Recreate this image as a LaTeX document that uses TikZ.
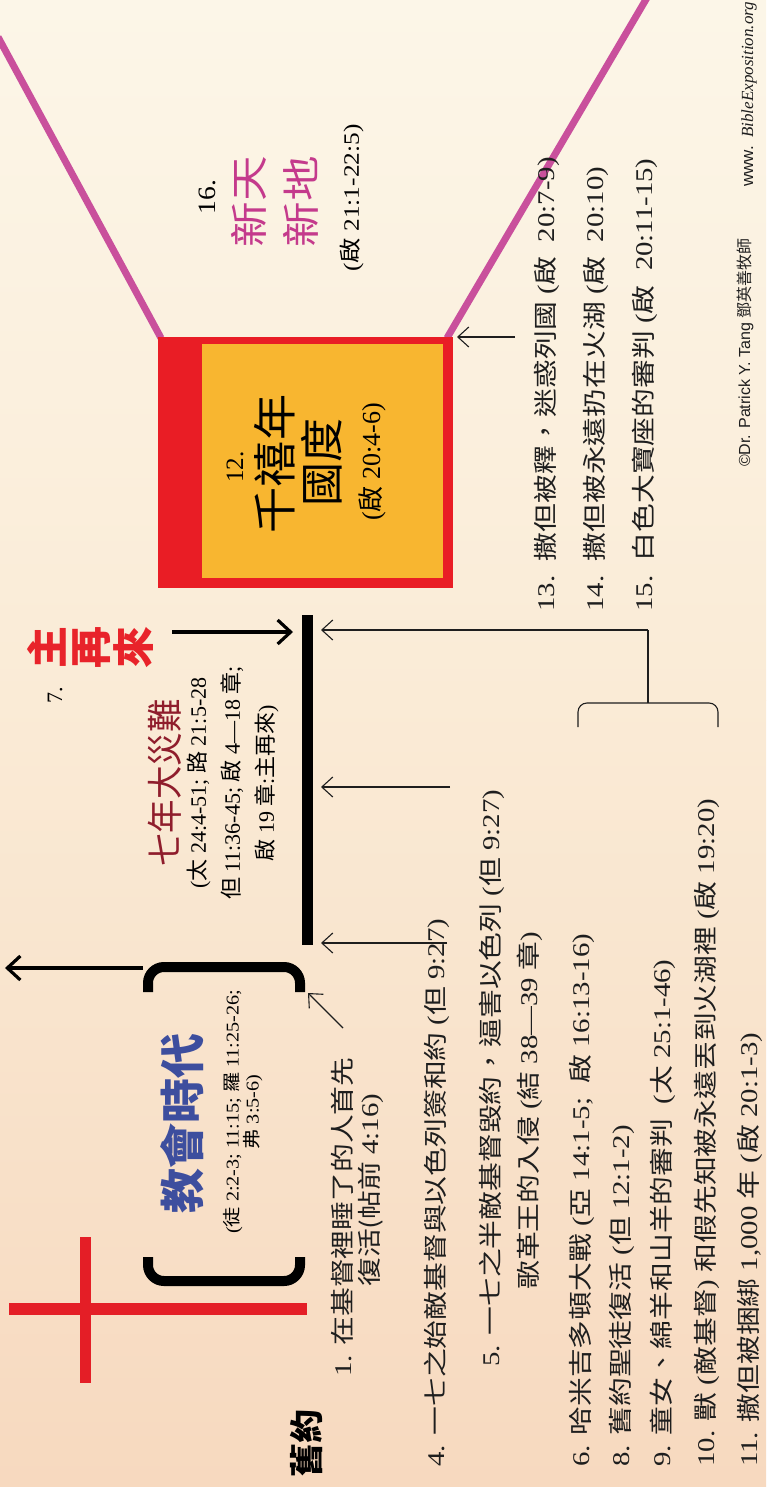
\documentclass[tikz,border=0pt]{standalone}
\usepackage{fontspec}
\setmainfont{Liberation Serif}
\newfontfamily\cj{Noto Sans CJK TC}
\newfontfamily\sansf{Liberation Sans}
\newcommand\C[1]{{\cj #1}}
\newcommand\fs[1]{\fontsize{#1}{#1}\selectfont}
\usetikzlibrary{arrows.meta}
\definecolor{bgtop}{HTML}{FCF6E8}
\definecolor{bgmid}{HTML}{FAEBD6}
\definecolor{bgbot}{HTML}{F7D9BF}
\definecolor{pinkline}{HTML}{C9509C}
\definecolor{pinktext}{HTML}{C43A8C}
\definecolor{boxred}{HTML}{E91D25}
\definecolor{boxorange}{HTML}{F8B630}
\definecolor{crossred}{HTML}{E41E26}
\definecolor{titleblue}{HTML}{3D4E9E}
\definecolor{maroon}{HTML}{8F1D2C}
\definecolor{zred}{HTML}{E8232A}
\definecolor{ink}{HTML}{1E1E1E}
\begin{document}
\begin{tikzpicture}[x=1pt,y=-1pt,
  vt/.style={rotate=90,xscale=#1,inner sep=0pt,anchor=west,text=ink},
  vt/.default=1.2,
  vc/.style={rotate=90,xscale=#1,inner sep=0pt,align=center},
  vc/.default=1,
  thinarrow/.style={line width=1.1pt,draw=ink,-{Straight Barb[length=11pt,width=20pt,line width=1.1pt]}},
  thickarrow/.style={line width=3.2pt,-{Straight Barb[length=13pt,width=24pt,line width=3.2pt]}},
  bracket/.style={line width=10pt,rounded corners=16pt},
  thinline/.style={line width=1.1pt,draw=ink}]
\useasboundingbox (0,0) rectangle (766,1487);
% background
\shade[top color=bgtop,bottom color=bgmid] (0,0) rectangle (766,700);
\shade[top color=bgmid,bottom color=bgbot] (0,700) rectangle (766,1487);

% new heaven / new earth lines
\coordinate (pL1) at (-2,37);
\coordinate (pL2) at (161,338);
\coordinate (pR1) at (648,-4);
\coordinate (pR2) at (447,338);
\draw[pinkline,line width=7pt] (pL1) -- (pL2);
\draw[pinkline,line width=7pt] (pR1) -- (pR2);

% millennium box
\fill[boxred] (158,337) rectangle (453,588);
\fill[boxorange] (202,344) rectangle (443,578);
\node[vc=1,font=\fs{25}] (n12) at (235,467) {12.};
\node[vc=1.05,font={\cj\fontsize{44}{44}\selectfont}] (qxn) at (275,464) {千禧年};
\node[vc=1.0,font={\cj\fontsize{44}{44}\selectfont}] (gd) at (322,462) {國度};
\node[vc=1.0,font=\fs{26}] (qref) at (372,462) {(\C{啟} 20:4-6)};

% 16 new heaven new earth
\node[vc=1.1,font=\fs{25}] (n16) at (207,197) {16.};
\node[vc=1.2,text=pinktext,font={\cj\fontsize{38}{52}\selectfont}] (xtxd) at (275,202) {新天\\新地};
\node[vc=1.15,font=\fs{22}] (xref) at (352,198) {(\C{啟} 21:1-22:5)};

% cross
\fill[crossred] (9,1303) rectangle (307,1315);
\fill[crossred] (80,1237) rectangle (91,1383);

% old testament
\node[vc=1,font={\cj\bfseries\fontsize{34}{34}\selectfont}] (jy) at (306,1443) {舊約};

% church age brackets
\draw[bracket] (148,1257) -- (148,1281) -- (300,1281) -- (300,1257);
\draw[bracket] (148,992) -- (148,967) -- (300,967) -- (300,992);
\coordinate (ra1) at (143,968);
\coordinate (ra2) at (5,968);
\draw[thickarrow] (ra1) -- (ra2);
\node[vc=1,text=titleblue,font={\cj\bfseries\fontsize{45}{45}\selectfont}] (jhsd) at (182,1123) {教會時代};
\node[vc=1.12,font={\fontsize{18}{20}\selectfont}] (jref) at (243,1112) {(\C{徒} 2:2-3; 11:15; \C{羅} 11:25-26;\\\C{弗} 3:5-6)};
\coordinate (sa1) at (343,1028);
\coordinate (sa2) at (308,993);
\draw[thinarrow] (sa1) -- (sa2);

% timeline bar
\coordinate (tb1) at (307.5,615);
\coordinate (tb2) at (307.5,945);
\draw[line width=11pt] (tb1) -- (tb2);

% second coming
\node[vc=1,text=zred,font={\cj\bfseries\fontsize{42}{43}\selectfont}] (zzl) at (90,647) {主\\再\\來};
\coordinate (za1) at (172,632);
\coordinate (za2) at (293,632);
\draw[thickarrow] (za1) -- (za2);
\node[vc=1,font=\fs{22}] (n7) at (55,695) {7.};
\node[vc=0.93,text=maroon,font={\cj\fontsize{36}{36}\selectfont}] (qndzn) at (165,783) {七年大災難};
\node[vc=1,font={\fontsize{22}{34}\selectfont}] (tref) at (233,783) {(\C{太} 24:4-51; \C{路} 21:5-28\\\C{但} 11:36-45; \C{啟} 4—18 \C{章};\\\C{啟} 19 \C{章}:\C{主再來})};

% arrows into the timeline
\coordinate (a1s) at (648,630);
\coordinate (a1e) at (321,630);
\coordinate (a2s) at (450,787);
\coordinate (a2e) at (321,787);
\coordinate (a3s) at (447,943);
\coordinate (a3e) at (321,943);
\coordinate (brc) at (648,703);
\draw[thinarrow] (a1s) -- (a1e);
\draw[thinarrow] (a2s) -- (a2e);
\draw[thinarrow] (a3s) -- (a3e);
\draw[thinline] (a1s) -- (brc);
\draw[thinline,rounded corners=9pt] (578,727) -- (578,703) -- (718,703) -- (718,727);
\coordinate (ba1) at (515,337);
\coordinate (ba2) at (457,337);
\draw[thinarrow] (ba1) -- (ba2);

% list 13-15
\node[vt] (l13) at (547,612) {\fs{24}13.\ \ \C{撒但被釋，迷惑列國} (\C{啟}\ \ 20:7-9)};
\node[vt] (l14) at (596,612) {\fs{24}14.\ \ \C{撒但被永遠扔在火湖} (\C{啟}\ \ 20:10)};
\node[vt] (l15) at (645,612) {\fs{24}15.\ \ \C{白色大寶座的審判} (\C{啟}\ \ 20:11-15)};

% list 1-11
\node[vt] (l1) at (342,1377) {\fs{24}1. \C{在基督裡睡了的人首先}};
\node[vt] (l1b) at (371,1287) {\fs{24}\C{復活(帖前} 4:16)};
\node[vt] (l4) at (437,1467) {\fs{24}4. \C{一七之始敵基督與以色列簽和約} (\C{但} 9:27)};
\node[vt] (l5) at (492,1367) {\fs{24}5. \C{一七之半敵基督毀約，逼害以色列} (\C{但} 9:27)};
\node[vt] (l5b) at (530,1290) {\fs{24}\C{歌革王的入侵} (\C{結} 38—39 \C{章})};
\node[vt] (l6) at (582,1467) {\fs{24}6. \C{哈米吉多頓大戰} (\C{亞} 14:1-5;\ \ \C{啟} 16:13-16)};
\node[vt] (l8) at (622,1467) {\fs{24}8. \C{舊約聖徒復活} (\C{但} 12:1-2)};
\node[vt] (l9) at (663,1467) {\fs{24}9. \C{童女、綿羊和山羊的審判}\ \ (\C{太} 25:1-46)};
\node[vt] (l10) at (707,1467) {\fs{24}10. \C{獸} (\C{敵基督}) \C{和假先知被永遠丟到火湖裡} (\C{啟} 19:20)};
\node[vt] (l11) at (750,1467) {\fs{24}11. \C{撒但被捆綁} 1,000 \C{年} (\C{啟} 20:1-3)};

% credits
\node[vt=1] (cp) at (745,467) {\sansf\fs{16}\textcopyright Dr. Patrick Y. Tang \C{鄧英善牧師}};
\node[vt=1] (www) at (749,187) {\fs{17}{\sansf www.}\ \ \textit{BibleExposition.org}};
\end{tikzpicture}
\end{document}
